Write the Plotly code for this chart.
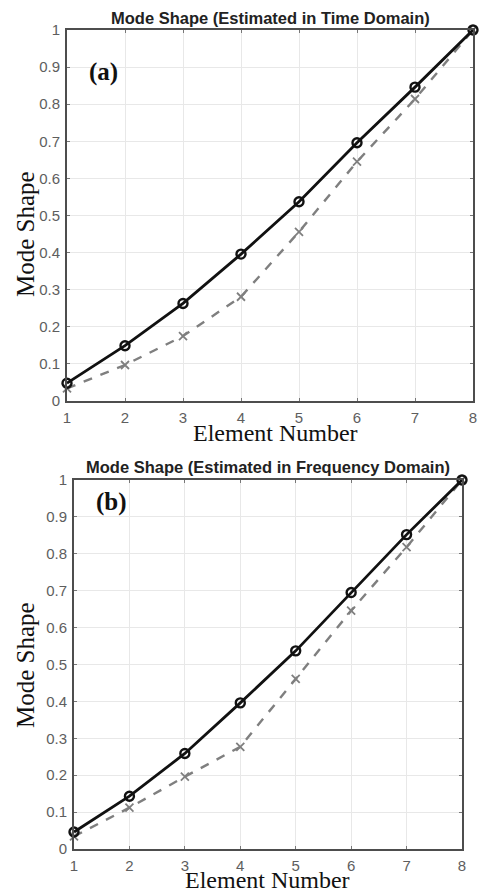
import plotly.graph_objects as go

elements = [1, 2, 3, 4, 5, 6, 7, 8]
time_solid = [0.048, 0.149, 0.263, 0.396, 0.537, 0.696, 0.846, 1.0]
time_dashed = [0.034, 0.097, 0.175, 0.281, 0.456, 0.645, 0.814, 1.0]
freq_solid = [0.046, 0.143, 0.259, 0.396, 0.537, 0.695, 0.852, 1.0]
freq_dashed = [0.034, 0.112, 0.196, 0.277, 0.461, 0.646, 0.818, 1.0]
y_ticks = [0, 0.1, 0.2, 0.3, 0.4, 0.5, 0.6, 0.7, 0.8, 0.9, 1]
y_tick_text = ["0", "0.1", "0.2", "0.3", "0.4", "0.5", "0.6", "0.7", "0.8", "0.9", "1"]
titles = ["Mode Shape (Estimated in Time Domain)", "Mode Shape (Estimated in Frequency Domain)"]
panel_labels = ["(a)", "(b)"]

W, H = 479, 895
fig = go.Figure()

def px_y(p):
    return 1 - p / H

panels = [
    dict(xa="x", ya="y", xdom=[67 / W, 473 / W], ydom=[px_y(401), px_y(30)],
         solid=time_solid, dashed=time_dashed),
    dict(xa="x2", ya="y2", xdom=[74 / W, 462 / W], ydom=[px_y(849), px_y(480)],
         solid=freq_solid, dashed=freq_dashed),
]

for i, p in enumerate(panels):
    fig.add_trace(go.Scatter(
        x=elements, y=p["dashed"], xaxis=p["xa"], yaxis=p["ya"], mode="lines+markers",
        line=dict(color="#7f7f7f", width=2.4, dash="dash"),
        marker=dict(symbol="x-thin-open", size=8, line=dict(color="#7f7f7f", width=1.8)),
        cliponaxis=False, showlegend=False))
    fig.add_trace(go.Scatter(
        x=elements, y=p["solid"], xaxis=p["xa"], yaxis=p["ya"], mode="lines+markers",
        line=dict(color="#111111", width=2.8),
        marker=dict(symbol="circle-open", size=9, color="#111111", line=dict(color="#111111", width=2.4)),
        cliponaxis=False, showlegend=False))

axis_common = dict(
    automargin=False,
    showgrid=True, gridcolor="#e8e8e8", gridwidth=1,
    showline=True, linecolor="#4d4d4d", linewidth=1.8, mirror="ticks",
    ticks="inside", ticklen=3, tickcolor="#777777",
    tickfont=dict(family="Liberation Sans, Arial", size=15, color="#5e5e5e"),
    zeroline=False, fixedrange=True,
)

layout = dict(
    template="none",
    width=W, height=H, margin=dict(l=0, r=0, t=0, b=0, autoexpand=False),
    paper_bgcolor="white", plot_bgcolor="white", showlegend=False,
)
for i, p in enumerate(panels):
    xk = "xaxis" if i == 0 else "xaxis2"
    yk = "yaxis" if i == 0 else "yaxis2"
    layout[xk] = dict(axis_common, domain=p["xdom"], range=[1, 8], tickvals=elements,
                      anchor=p["ya"], ticklabelstandoff=2)
    layout[yk] = dict(axis_common, domain=p["ydom"], range=[0, 1], tickvals=y_ticks,
                      ticktext=y_tick_text, anchor=p["xa"], ticklabelstandoff=2)
fig.update_layout(**layout)

ann = []
title_y = [18, 467]
title_x = [270, 268]
label_pos = [(103, 72), (111, 502)]
ytitle_y = [234, 665]
xtitle = [(275, 433), (267, 880)]
for i in range(2):
    ann.append(dict(x=title_x[i] / W, y=px_y(title_y[i]), xref="paper", yref="paper",
                    text="<b>" + titles[i] + "</b>", showarrow=False,
                    font=dict(family="Liberation Sans, Arial", size=16.5, color="#222222"),
                    xanchor="center", yanchor="middle"))
    ann.append(dict(x=label_pos[i][0] / W, y=px_y(label_pos[i][1]), xref="paper", yref="paper",
                    text="<b>" + panel_labels[i] + "</b>", showarrow=False,
                    font=dict(family="Liberation Serif, Times New Roman", size=25, color="#111111"),
                    xanchor="center", yanchor="middle"))
    ann.append(dict(x=25 / W, y=px_y(ytitle_y[i]), xref="paper", yref="paper",
                    text="Mode Shape", showarrow=False, textangle=-90,
                    font=dict(family="Liberation Serif, Times New Roman", size=25, color="#111111"),
                    xanchor="center", yanchor="middle"))
    ann.append(dict(x=xtitle[i][0] / W, y=px_y(xtitle[i][1]), xref="paper", yref="paper",
                    text="Element Number", showarrow=False,
                    font=dict(family="Liberation Serif, Times New Roman", size=24, color="#111111"),
                    xanchor="center", yanchor="middle"))
fig.update_layout(annotations=ann)

fig.write_html("out.html", config={"displayModeBar": False},
               post_script="document.body.style.margin='0';document.body.style.overflow='hidden';")
